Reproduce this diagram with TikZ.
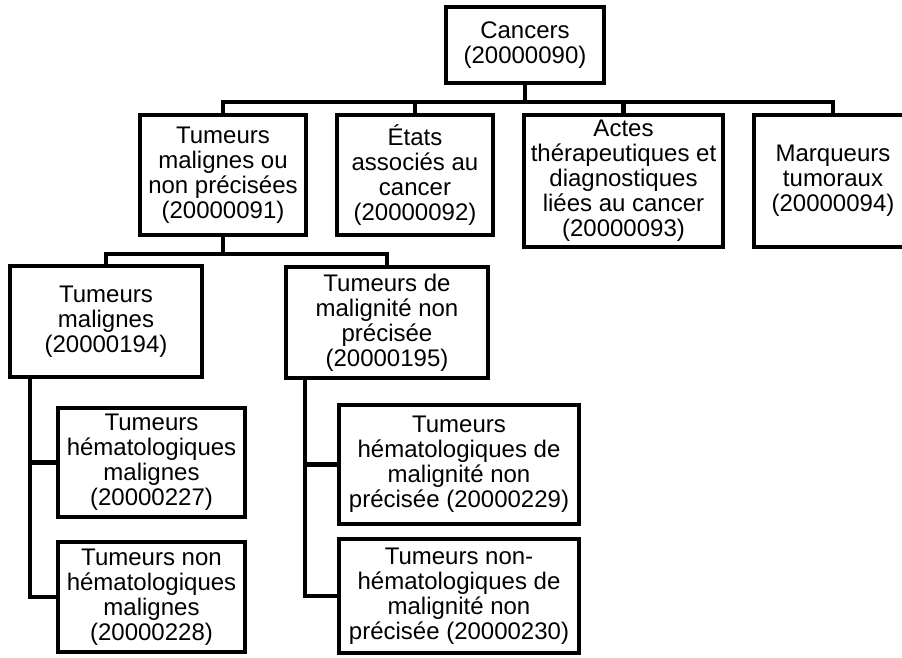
\documentclass[tikz,border=0pt]{standalone}
\usepackage{fontspec}
\setmainfont{Liberation Sans}

\begin{document}
\begin{tikzpicture}[x=1pt,y=-1pt,
  main node/.style={draw,line width=4.5pt,inner sep=0pt,align=center,
    font=\fontsize{24}{25}\selectfont},
  bus/.style={line width=4.5pt,to path={-- ++(0,16.5) -| (\tikztotarget)}},
  side/.style={line width=4.5pt,to path={|- (\tikztotarget)}}]
  \useasboundingbox (0,0) rectangle (902,657);

  \node[main node,minimum width=158pt,minimum height=76pt] (n0) at (525,45) {Cancers\\(20000090)};
  \node[main node,minimum width=166pt,minimum height=120pt] (n1) at (223,175) {Tumeurs\\malignes ou\\non précisées\\(20000091)};
  \node[main node,minimum width=156pt,minimum height=120pt] (n2) at (415,175) {États\\associés au\\cancer\\(20000092)};
  \node[main node,minimum width=199pt,minimum height=132pt] (n3) at (623.5,181) {Actes\\thérapeutiques et\\diagnostiques\\liées au cancer\\(20000093)};
  \node[main node,minimum width=158pt,minimum height=132pt] (n4) at (833,181) {Marqueurs\\tumoraux\\(20000094)};
  \node[main node,minimum width=192pt,minimum height=111pt] (n5) at (106,321.5) {Tumeurs\\malignes\\(20000194)};
  \node[main node,minimum width=202pt,minimum height=111pt] (n6) at (387,322.5) {Tumeurs de\\malignité non\\précisée\\(20000195)};
  \node[main node,minimum width=187pt,minimum height=109pt] (n7) at (151.5,462.5) {Tumeurs\\hématologiques\\malignes\\(20000227)};
  \node[main node,minimum width=187pt,minimum height=110pt] (n8) at (151.5,597) {Tumeurs non\\hématologiques\\malignes\\(20000228)};
  \node[main node,minimum width=240pt,minimum height=119pt] (n9) at (459,464.5) {Tumeurs\\hématologiques de\\malignité non\\précisée (20000229)};
  \node[main node,minimum width=240pt,minimum height=114pt] (n10) at (459,596) {Tumeurs non-\\hématologiques de\\malignité non\\précisée (20000230)};

  \path[]
   (n0.south) edge[bus] (n1.north)
   (n0.south) edge[bus] (n2.north)
   (n0.south) edge[bus] (n3.north)
   (n0.south) edge[bus] (n4.north)
   (n1.south) edge[bus] (n5.north)
   (n1.south) edge[bus] (n6.north)
   ([xshift=22pt]n5.south west) edge[side] (n7.west)
   ([xshift=22pt]n5.south west) edge[side] (n8.west)
   ([xshift=21pt]n6.south west) edge[side] (n9.west)
   ([xshift=21pt]n6.south west) edge[side] (n10.west);
\end{tikzpicture}
\end{document}
